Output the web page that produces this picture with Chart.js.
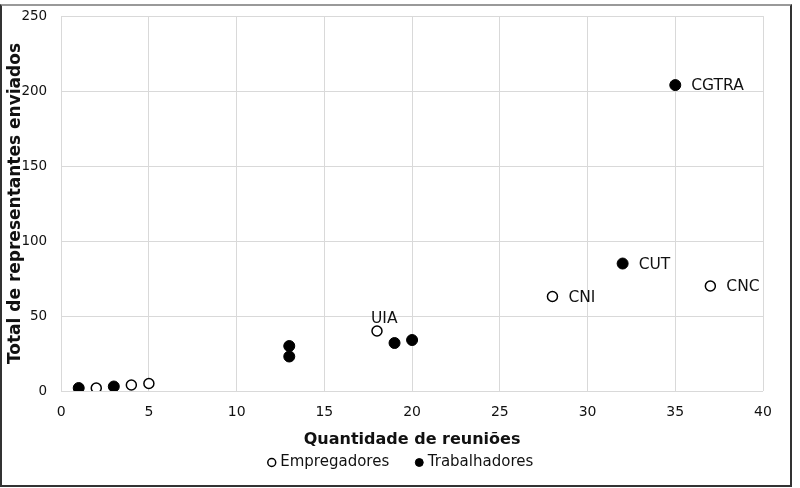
<!DOCTYPE html>
<html>
<head>
<meta charset="utf-8">
<script src="https://cdn.jsdelivr.net/npm/chart.js@4/dist/chart.umd.min.js"></script>
<style>
  html, body { margin: 0; padding: 0; background: #fff; overflow: hidden; }
  #wrap { position: relative; width: 800px; height: 488px; overflow: hidden; }
  #frame { position: absolute; left: 0; top: 4px; width: 792px; height: 483px; box-sizing: border-box;
           border-left: 2px solid #333; border-right: 2px solid #333; border-bottom: 2px solid #333; border-top: 2px solid #999;
           pointer-events: none; }
  canvas { position: absolute; left: 0; top: -6px; }
</style>
</head>
<body>
<div id="wrap">
  <canvas id="c" width="800" height="494"></canvas>
  <div id="frame"></div>
</div>
<script>
// Empregadores (open circles)
const empX = [2, 4, 5, 18, 28, 37]
const empY = [2, 4, 5, 40, 63, 70]
const empLabels = [null, null, null, 'UIA', 'CNI', 'CNC']

// Trabalhadores (filled circles)
const trabX = [1, 3, 13, 13, 19, 20, 32, 35]
const trabY = [2, 3, 30, 23, 32, 34, 85, 204]
const trabLabels = [null, null, null, null, null, null, 'CUT', 'CGTRA']

const xTicks = [0, 5, 10, 15, 20, 25, 30, 35, 40]
const yTicks = [0, 50, 100, 150, 200, 250]

const FONT = 'DejaVu Sans'
const toPts = (xs, ys) => xs.map((x, i) => ({ x, y: ys[i] }))

const pointLabels = {
  id: 'pointLabels',
  afterLayout(chart) {
    // legend sits a bit right of centre in the original
    chart.legend.left += 18
    chart.legend.right += 18
  },
  afterDatasetsDraw(chart) {
    const ctx = chart.ctx
    ctx.save()
    ctx.font = `15.5px "${FONT}"`
    ctx.fillStyle = '#111'
    chart.data.datasets.forEach((ds, di) => {
      const meta = chart.getDatasetMeta(di)
      ds.names.forEach((name, i) => {
        if (!name) return
        const el = meta.data[i]
        if (name === 'UIA') {
          ctx.textAlign = 'left'; ctx.textBaseline = 'alphabetic'
          ctx.fillText(name, el.x - 6, el.y - 8)
        } else {
          ctx.textAlign = 'left'; ctx.textBaseline = 'middle'
          ctx.fillText(name, el.x + 16, el.y + 1)
        }
      })
    })
    ctx.restore()
  }
}

new Chart(document.getElementById('c'), {
  type: 'scatter',
  data: {
    datasets: [
      { label: 'Empregadores', data: toPts(empX, empY), names: empLabels,
        pointStyle: 'circle', pointRadius: 5, pointBorderWidth: 1.5, borderWidth: 1.3,
        backgroundColor: '#fff', borderColor: '#000' },
      { label: 'Trabalhadores', data: toPts(trabX, trabY), names: trabLabels,
        pointStyle: 'circle', pointRadius: 5.5, pointBorderWidth: 1, borderWidth: 1,
        backgroundColor: '#000', borderColor: '#000' }
    ]
  },
  options: {
    responsive: false, animation: false,
    layout: { padding: { left: 5, right: 37, top: 0, bottom: 8 } },
    plugins: {
      tooltip: { enabled: false },
      legend: {
        position: 'bottom',
        labels: {
          usePointStyle: true, boxWidth: 2, boxHeight: 5.6, padding: 10, color: '#111',
          font: { family: FONT, size: 15 },
          generateLabels: chart => Chart.defaults.plugins.legend.labels.generateLabels(chart)
            .map((l, i) => i === 0 ? { ...l, text: l.text + '    ' } : l)
        }
      }
    },
    scales: {
      x: {
        type: 'linear', min: 0, max: 40,
        afterBuildTicks: s => { s.ticks = xTicks.map(v => ({ value: v })) },
        grid: { color: '#d9d9d9', drawTicks: false },
        border: { display: false },
        ticks: { color: '#111', padding: 13, font: { family: FONT, size: 14 } },
        title: { display: true, text: 'Quantidade de reuniões', color: '#111', padding: { top: -4, bottom: -4 },
                 font: { family: FONT, size: 16, weight: 'bold' } }
      },
      y: {
        min: 0, max: 250,
        afterBuildTicks: s => { s.ticks = yTicks.map(v => ({ value: v })) },
        grid: { color: '#d9d9d9', drawTicks: false },
        border: { display: false },
        ticks: { color: '#111', padding: 14, font: { family: FONT, size: 13.5 } },
        title: { display: true, text: 'Total de representantes enviados', color: '#111', padding: { top: 0, bottom: -18 },
                 font: { family: FONT, size: 17, weight: 'bold' } }
      }
    }
  },
  plugins: [pointLabels]
})
</script>
</body>
</html>
